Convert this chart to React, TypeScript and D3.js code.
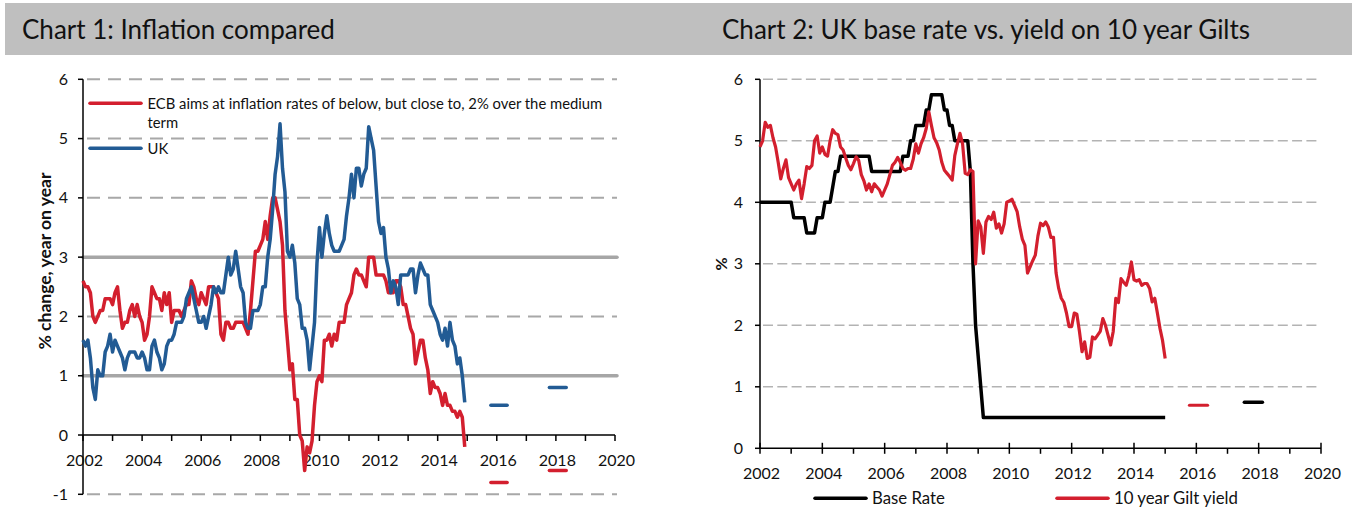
import React from "react";
import * as d3 from "d3";

// ---------- DATA ----------
const startYear = 2002;

// Chart 1: monthly inflation, Jan 2002 - Dec 2014
const euroInflation = [
  2.6, 2.5, 2.5, 2.4, 2.0, 1.9, 2.0, 2.1, 2.1, 2.3, 2.3, 2.3,
  2.2, 2.4, 2.5, 2.1, 1.8, 1.9, 1.9, 2.1, 2.2, 2.0, 2.2, 2.0,
  1.9, 1.6, 1.7, 2.0, 2.5, 2.4, 2.3, 2.3, 2.1, 2.4, 2.2, 2.4,
  1.9, 2.1, 2.1, 2.1, 2.0, 2.1, 2.2, 2.2, 2.6, 2.5, 2.3, 2.2,
  2.4, 2.3, 2.2, 2.5, 2.5, 2.5, 2.4, 2.3, 1.7, 1.6, 1.9, 1.9,
  1.8, 1.8, 1.9, 1.9, 1.9, 1.9, 1.8, 1.7, 2.1, 2.6, 3.1, 3.1,
  3.2, 3.3, 3.6, 3.3, 3.7, 4.0, 4.0, 3.8, 3.6, 3.2, 2.1, 1.6,
  1.1, 1.2, 0.6, 0.6, 0.0, -0.1, -0.6, -0.2, -0.3, -0.1, 0.5, 0.9,
  1.0, 0.9, 1.6, 1.6, 1.7, 1.5, 1.7, 1.6, 1.9, 1.9, 1.9, 2.2,
  2.3, 2.4, 2.7, 2.8, 2.7, 2.7, 2.6, 2.5, 3.0, 3.0, 3.0, 2.7,
  2.7, 2.7, 2.7, 2.6, 2.4, 2.4, 2.4, 2.6, 2.6, 2.5, 2.2, 2.2,
  2.0, 1.8, 1.7, 1.2, 1.4, 1.6, 1.6, 1.3, 1.1, 0.7, 0.9, 0.8,
  0.8, 0.7, 0.5, 0.7, 0.5, 0.5, 0.4, 0.4, 0.3, 0.4, 0.3, -0.2,
];

const ukInflation = [
  1.6, 1.5, 1.6, 1.3, 0.8, 0.6, 1.1, 1.0, 1.0, 1.4, 1.5, 1.7,
  1.4, 1.6, 1.5, 1.4, 1.3, 1.1, 1.3, 1.4, 1.4, 1.4, 1.3, 1.3,
  1.4, 1.3, 1.1, 1.1, 1.5, 1.6, 1.4, 1.3, 1.1, 1.2, 1.5, 1.6,
  1.6, 1.7, 1.9, 1.9, 1.9, 2.0, 2.3, 2.4, 2.5, 2.3, 2.1, 1.9,
  1.9, 2.0, 1.8, 2.0, 2.2, 2.5, 2.4, 2.5, 2.4, 2.4, 2.7, 3.0,
  2.7, 2.8, 3.1, 2.8, 2.5, 2.4, 1.9, 1.8, 1.8, 2.1, 2.1, 2.1,
  2.2, 2.5, 2.5, 3.0, 3.3, 3.8, 4.4, 4.7, 5.25, 4.5, 4.1, 3.1,
  3.0, 3.2, 2.9, 2.3, 2.2, 1.8, 1.8, 1.6, 1.1, 1.5, 1.9, 2.9,
  3.5, 3.0, 3.4, 3.7, 3.4, 3.2, 3.1, 3.1, 3.1, 3.2, 3.3, 3.7,
  4.0, 4.4, 4.0, 4.5, 4.5, 4.2, 4.4, 4.5, 5.2, 5.0, 4.8, 4.2,
  3.6, 3.4, 3.5, 3.0, 2.8, 2.4, 2.6, 2.5, 2.2, 2.7, 2.7, 2.7,
  2.7, 2.8, 2.8, 2.4, 2.7, 2.9, 2.8, 2.7, 2.7, 2.2, 2.1, 2.0,
  1.9, 1.7, 1.6, 1.8, 1.5, 1.9, 1.6, 1.5, 1.2, 1.3, 1.0, 0.55,
];

// Forecast markers (start year, end year, value)
const euroForecast = [
  [2015.8, 2016.35, -0.8],
  [2017.78, 2018.35, -0.6],
];
const ukForecast = [
  [2015.8, 2016.35, 0.5],
  [2017.78, 2018.35, 0.8],
];

// Chart 2: monthly, Jan 2002 - Jan 2015
const baseRate = [
  4.0, 4.0, 4.0, 4.0, 4.0, 4.0, 4.0, 4.0, 4.0, 4.0, 4.0, 4.0,
  4.0, 3.75, 3.75, 3.75, 3.75, 3.75, 3.5, 3.5, 3.5, 3.5, 3.75, 3.75,
  3.75, 4.0, 4.0, 4.0, 4.25, 4.5, 4.5, 4.75, 4.75, 4.75, 4.75, 4.75,
  4.75, 4.75, 4.75, 4.75, 4.75, 4.75, 4.75, 4.5, 4.5, 4.5, 4.5, 4.5,
  4.5, 4.5, 4.5, 4.5, 4.5, 4.5, 4.5, 4.75, 4.75, 4.75, 5.0, 5.0,
  5.25, 5.25, 5.25, 5.25, 5.5, 5.5, 5.75, 5.75, 5.75, 5.75, 5.75, 5.5,
  5.5, 5.25, 5.25, 5.0, 5.0, 5.0, 5.0, 5.0, 5.0, 4.5, 3.0, 2.0,
  1.5, 1.0, 0.5, 0.5, 0.5, 0.5, 0.5, 0.5, 0.5, 0.5, 0.5, 0.5,
  0.5, 0.5, 0.5, 0.5, 0.5, 0.5, 0.5, 0.5, 0.5, 0.5, 0.5, 0.5,
  0.5, 0.5, 0.5, 0.5, 0.5, 0.5, 0.5, 0.5, 0.5, 0.5, 0.5, 0.5,
  0.5, 0.5, 0.5, 0.5, 0.5, 0.5, 0.5, 0.5, 0.5, 0.5, 0.5, 0.5,
  0.5, 0.5, 0.5, 0.5, 0.5, 0.5, 0.5, 0.5, 0.5, 0.5, 0.5, 0.5,
  0.5, 0.5, 0.5, 0.5, 0.5, 0.5, 0.5, 0.5, 0.5, 0.5, 0.5, 0.5,
  0.5,
];

const giltYield = [
  4.9, 5.0, 5.3, 5.22, 5.25, 5.05, 4.9, 4.65, 4.38, 4.55, 4.69, 4.4,
  4.3, 4.2, 4.3, 4.36, 4.06, 4.3, 4.58, 4.55, 4.6, 5.0, 5.08, 4.8,
  4.9, 4.78, 4.75, 5.0, 5.18, 5.12, 5.1, 4.9, 4.85, 4.72, 4.6, 4.53,
  4.63, 4.74, 4.68, 4.45, 4.35, 4.2, 4.3, 4.17, 4.3, 4.25, 4.2, 4.1,
  4.2, 4.3, 4.45, 4.6, 4.65, 4.73, 4.65, 4.55, 4.52, 4.55, 4.55, 4.7,
  4.95, 4.8, 4.95, 5.05, 5.2, 5.47, 5.25, 5.05, 4.97, 4.85, 4.65, 4.52,
  4.47, 4.42, 4.36, 4.76, 4.95, 5.12, 4.95, 4.47, 4.45, 4.53, 4.5, 3.0,
  3.7, 3.6, 3.17, 3.68, 3.77, 3.72, 3.84, 3.58, 3.65, 3.5, 3.65, 4.0,
  4.02, 4.05, 3.95, 3.85, 3.6, 3.4, 3.3, 2.85, 2.95, 3.05, 3.14, 3.45,
  3.66, 3.62, 3.68, 3.6, 3.43, 3.43, 2.85, 2.6, 2.44, 2.37, 2.2, 1.98,
  1.98, 2.2, 2.18, 1.9, 1.57, 1.73, 1.46, 1.48, 1.81, 1.78, 1.84, 1.9,
  2.11, 2.0, 1.84, 1.68, 1.9, 2.44, 2.37, 2.76, 2.7, 2.65, 2.8, 3.03,
  2.74, 2.72, 2.74, 2.65, 2.68, 2.68, 2.6, 2.38, 2.44, 2.2, 1.95, 1.75,
  1.46,
];

const giltForecast = [[2015.78, 2016.36, 0.7]];
const baseForecast = [[2017.54, 2018.12, 0.75]];

const xTickYears = [2002, 2004, 2006, 2008, 2010, 2012, 2014, 2016, 2018, 2020];
const allYears = d3.range(2002, 2021);
const chart1YTicks = [-1, 0, 1, 2, 3, 4, 5, 6];
const chart1DashedGrid = [-1, 2, 4, 5, 6];
const chart1SolidRefs = [1, 3];
const chart2YTicks = [0, 1, 2, 3, 4, 5, 6];
const chart2Grid = [1, 2, 3, 4, 5, 6];

// ---------- STYLE ----------
const FONT = "Lato, 'Open Sans', 'Noto Sans', sans-serif";
const RED = "#d31f2e";
const BLUE = "#225b94";
const GRID = "#a8a8a8";

const toPoints = (vals: number[]) =>
  vals.map((v, i) => ({ t: startYear + i / 12, v }));

export default function App() {
  // Chart 1 scales
  const x1 = d3.scaleLinear().domain([2002, 2020]).range([83, 615]);
  const y1 = d3.scaleLinear().domain([-1, 6]).range([494.3, 79.3]);
  // Chart 2 scales
  const x2 = d3.scaleLinear().domain([2002, 2020]).range([760, 1321]);
  const y2 = d3.scaleLinear().domain([0, 6]).range([448.3, 79.3]);

  const line1 = d3
    .line<{ t: number; v: number }>()
    .x((d) => x1(d.t))
    .y((d) => y1(d.v));
  const line2 = d3
    .line<{ t: number; v: number }>()
    .x((d) => x2(d.t))
    .y((d) => y2(d.v));

  return (
    <svg
      width={1357}
      height={517}
      style={{ position: "absolute", left: 0, top: 0, fontFamily: FONT }}
    >
      <rect x={0} y={0} width={1357} height={517} fill="#fff" />
      {/* Header bar */}
      <rect x={5} y={3} width={1347} height={52} fill="#bfbfbf" />
      <text x={22} y={38.5} fontSize={26} fill="#111">
        Chart 1: Inflation compared
      </text>
      <text x={722} y={38.5} fontSize={26} fill="#111">
        Chart 2: UK base rate vs. yield on 10 year Gilts
      </text>

      {/* ===== CHART 1 ===== */}
      <g>
        {chart1DashedGrid.map((v) => (
          <line
            key={"g1" + v}
            x1={x1(2002)}
            x2={617}
            y1={y1(v)}
            y2={y1(v)}
            stroke={GRID}
            strokeWidth={2}
            strokeDasharray="13,8"
            strokeDashoffset={-4}
          />
        ))}
        {chart1SolidRefs.map((v) => (
          <line
            key={"r1" + v}
            x1={x1(2002)}
            x2={617}
            y1={y1(v)}
            y2={y1(v)}
            stroke="#a6a6a6"
            strokeWidth={3.5}
            strokeLinecap="round"
          />
        ))}
        {/* axes */}
        <line x1={x1(2002)} x2={x1(2002)} y1={y1(6)} y2={y1(-1)} stroke="#000" strokeWidth={1.5} />
        <line x1={x1(2002)} x2={x1(2020)} y1={y1(0)} y2={y1(0)} stroke="#000" strokeWidth={1.5} />
        {chart1YTicks.map((v) => (
          <g key={"yt1" + v}>
            <line x1={x1(2002) - 5} x2={x1(2002)} y1={y1(v)} y2={y1(v)} stroke="#000" strokeWidth={1.5} />
            <text x={68} y={y1(v) + 5.5} fontSize={16} textAnchor="end" fill="#111">
              {v}
            </text>
          </g>
        ))}
        {allYears.map((yr) => (
          <line key={"xt1" + yr} x1={x1(yr)} x2={x1(yr)} y1={y1(0)} y2={y1(0) + 6} stroke="#000" strokeWidth={1.5} />
        ))}
        {xTickYears.map((yr) => (
          <text key={"xl1" + yr} x={x1(yr) + 1.5} y={466} fontSize={16} textAnchor="middle" fill="#111">
            {yr}
          </text>
        ))}
        <text
          transform={`translate(51,261) rotate(-90)`}
          fontSize={17.5}
          fontWeight="bold"
          textAnchor="middle"
          fill="#111"
        >
          % change, year on year
        </text>

        {/* series */}
        <path d={line1(toPoints(euroInflation)) || ""} fill="none" stroke={RED} strokeWidth={3.5} strokeLinejoin="round" />
        <path d={line1(toPoints(ukInflation)) || ""} fill="none" stroke={BLUE} strokeWidth={3.5} strokeLinejoin="round" />
        {euroForecast.map((f, i) => (
          <line key={"ef" + i} x1={x1(f[0])} x2={x1(f[1])} y1={y1(f[2])} y2={y1(f[2])} stroke={RED} strokeWidth={3.5} strokeLinecap="round" />
        ))}
        {ukForecast.map((f, i) => (
          <line key={"uf" + i} x1={x1(f[0])} x2={x1(f[1])} y1={y1(f[2])} y2={y1(f[2])} stroke={BLUE} strokeWidth={3.5} strokeLinecap="round" />
        ))}

        {/* legend */}
        <line x1={90} x2={141} y1={103.3} y2={103.3} stroke={RED} strokeWidth={3.5} strokeLinecap="round" />
        <text x={147.5} y={108.5} fontSize={14.8} fill="#111">
          ECB aims at inflation rates of below, but close to, 2% over the medium
        </text>
        <text x={147.5} y={128} fontSize={14.8} fill="#111">
          term
        </text>
        <line x1={90} x2={141} y1={148.3} y2={148.3} stroke={BLUE} strokeWidth={3.5} strokeLinecap="round" />
        <text x={147.5} y={153.5} fontSize={14.8} fill="#111">
          UK
        </text>
      </g>

      {/* ===== CHART 2 ===== */}
      <g>
        {chart2Grid.map((v) => (
          <line
            key={"g2" + v}
            x1={x2(2002) + 3}
            x2={1320}
            y1={y2(v)}
            y2={y2(v)}
            stroke="#b3b3b3"
            strokeWidth={1.5}
            strokeDasharray="10,4.3"
          />
        ))}
        <line x1={x2(2002)} x2={x2(2002)} y1={y2(6)} y2={y2(0)} stroke="#000" strokeWidth={1.5} />
        <line x1={x2(2002)} x2={x2(2020)} y1={y2(0)} y2={y2(0)} stroke="#000" strokeWidth={1.5} />
        {chart2YTicks.map((v) => (
          <g key={"yt2" + v}>
            <line x1={x2(2002) - 5} x2={x2(2002)} y1={y2(v)} y2={y2(v)} stroke="#000" strokeWidth={1.5} />
            <text x={743} y={y2(v) + 5.5} fontSize={16} textAnchor="end" fill="#111">
              {v}
            </text>
          </g>
        ))}
        {allYears.map((yr) => {
          const major = (yr - 2002) % 2 === 0;
          return (
            <line
              key={"xt2" + yr}
              x1={x2(yr)}
              x2={x2(yr)}
              y1={major ? y2(0) - 5.5 : y2(0)}
              y2={y2(0) + 5.5}
              stroke="#000"
              strokeWidth={1.5}
            />
          );
        })}
        {xTickYears.map((yr) => (
          <text key={"xl2" + yr} x={x2(yr) + 1.5} y={479} fontSize={16} textAnchor="middle" fill="#111">
            {yr}
          </text>
        ))}
        <text
          transform={`translate(727,264) rotate(-90)`}
          fontSize={16}
          fontWeight="bold"
          textAnchor="middle"
          fill="#111"
        >
          %
        </text>

        <path d={line2(toPoints(baseRate)) || ""} fill="none" stroke="#000" strokeWidth={3.5} strokeLinejoin="round" />
        <path d={line2(toPoints(giltYield)) || ""} fill="none" stroke={RED} strokeWidth={3.2} strokeLinejoin="round" />
        {giltForecast.map((f, i) => (
          <line key={"gf" + i} x1={x2(f[0])} x2={x2(f[1])} y1={y2(f[2])} y2={y2(f[2])} stroke={RED} strokeWidth={3.2} strokeLinecap="round" />
        ))}
        {baseForecast.map((f, i) => (
          <line key={"bf" + i} x1={x2(f[0])} x2={x2(f[1])} y1={y2(f[2])} y2={y2(f[2])} stroke="#000" strokeWidth={3.5} strokeLinecap="round" />
        ))}

        {/* legend */}
        <line x1={815} x2={866} y1={498.3} y2={498.3} stroke="#000" strokeWidth={3.5} strokeLinecap="round" />
        <text x={872} y={504} fontSize={16.8} fill="#111">
          Base Rate
        </text>
        <line x1={1057} x2={1108} y1={498.3} y2={498.3} stroke={RED} strokeWidth={3.5} strokeLinecap="round" />
        <text x={1114} y={504} fontSize={16.8} fill="#111">
          10 year Gilt yield
        </text>
      </g>
    </svg>
  );
}
